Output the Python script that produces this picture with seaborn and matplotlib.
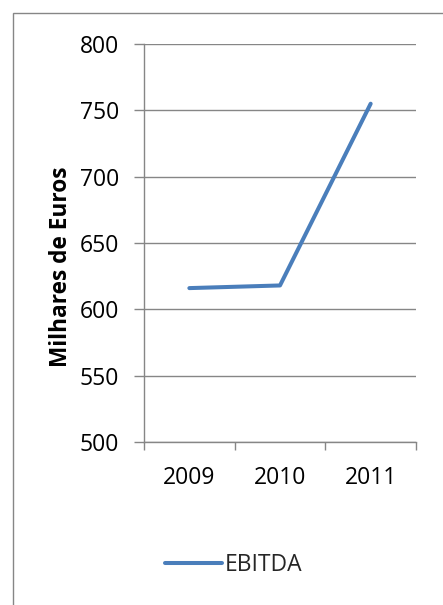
import matplotlib
matplotlib.use("Agg")
import matplotlib.pyplot as plt
from matplotlib.patches import Rectangle
from matplotlib.ticker import FixedLocator, NullFormatter
import pandas as pd
import seaborn as sns

years = ["2009", "2010", "2011"]
ebitda = [616, 618, 755]
series_name = "EBITDA"
y_ticks = [500, 550, 600, 650, 700, 750, 800]

sns.set_theme(style="white")
plt.rcParams["font.family"] = ["Open Sans", "DejaVu Sans"]

W, H, DPI = 443, 605, 100
fig = plt.figure(figsize=(W / DPI, H / DPI), dpi=DPI)
fig.patch.set_facecolor("white")

# outer chart frame (runs off the right and bottom edges)
fig.add_artist(Rectangle((13 / W, -0.1), 1.1, 1.1 - 13 / H,
                         transform=fig.transFigure, fill=False,
                         edgecolor="#868686", linewidth=1.0))

left, right, top, bottom = 144, 416, 44, 442
ax = fig.add_axes([left / W, 1 - bottom / H, (right - left) / W, (bottom - top) / H])

df = pd.DataFrame({"Ano": years, "Valor": ebitda})
df["pos"] = range(len(years))
sns.lineplot(data=df, x="pos", y="Valor", ax=ax, color="#4A7EBB",
             linewidth=2.9, label=series_name, legend=False,
             solid_capstyle="round", solid_joinstyle="round")

ax.set_xlim(-0.5, len(years) - 0.5)
ax.set_ylim(y_ticks[0], y_ticks[-1])
ax.set_yticks(y_ticks)
ax.set_yticklabels([str(t) for t in y_ticks], fontsize=16.5, color="black")
ax.yaxis.grid(True, color="#868686", linewidth=1.0)
ax.set_axisbelow(True)

ax.set_xticks(range(len(years)))
ax.set_xticklabels(years, fontsize=16.5, color="black")
ax.xaxis.set_minor_locator(FixedLocator([i - 0.5 for i in range(len(years) + 1)]))
ax.xaxis.set_minor_formatter(NullFormatter())
ax.tick_params(axis="x", which="major", length=0, pad=17)
ax.tick_params(axis="x", which="minor", length=6, width=1.0, color="#868686",
               direction="out", bottom=True)
ax.tick_params(axis="y", which="major", length=7, width=1.0, color="#868686",
               direction="out", left=True, pad=11)

for side in ["top", "right"]:
    ax.spines[side].set_visible(False)
for side in ["left", "bottom"]:
    ax.spines[side].set_color("#868686")
    ax.spines[side].set_linewidth(1.0)

ax.set_xlabel("")
ax.set_ylabel("Milhares de Euros", fontsize=16.3, fontweight="bold", color="black")
ax.yaxis.set_label_coords(-0.261, 0.44)

handles, labels = ax.get_legend_handles_labels()
fig.legend(handles, labels, loc="center left",
           bbox_to_anchor=(165 / W, 1 - 565 / H), frameon=False,
           fontsize=16.5, handlelength=2.5, handletextpad=0.1,
           borderaxespad=0, borderpad=0)

fig.savefig("out.png", dpi=DPI, facecolor="white")
